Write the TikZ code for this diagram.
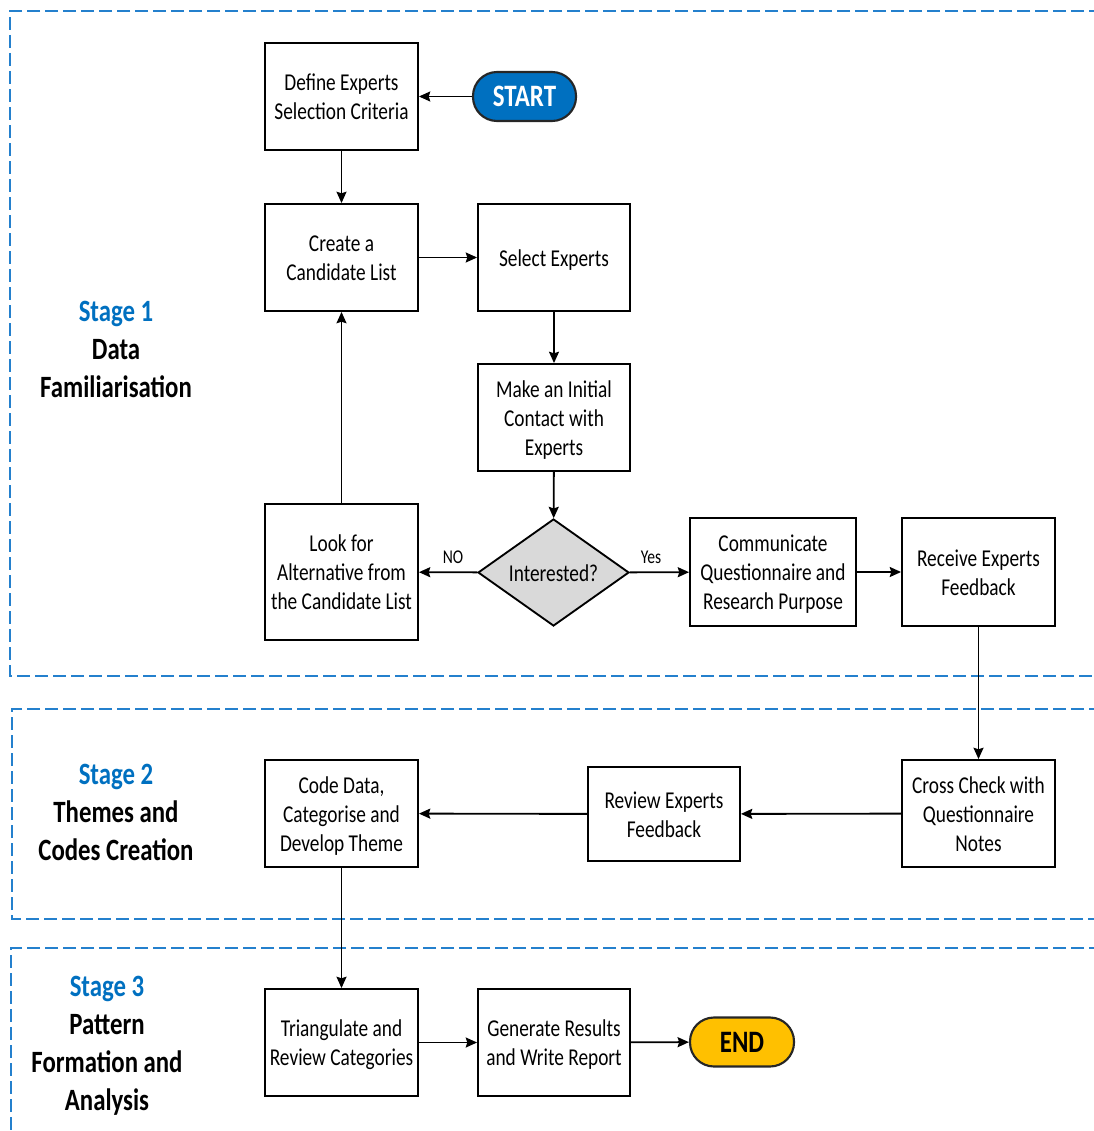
\documentclass[tikz,border=0pt]{standalone}
\usepackage{fontspec}
\setmainfont{Carlito}
\usepackage{graphicx}
\usetikzlibrary{shapes.geometric,arrows.meta}

\definecolor{stageblue}{RGB}{0,112,192}
\definecolor{frameblue}{RGB}{36,128,205}
\definecolor{endgold}{RGB}{255,192,0}
\definecolor{decgray}{RGB}{217,217,217}

% text set slightly taller than wide, lines centred, nudged down a little
\newcommand\tall[1]{\raisebox{-2.2pt}[\height][\depth]{\scalebox{1}[1.25]{\begin{tabular}{@{}c@{}}#1\end{tabular}}}}

\tikzset{
  procbox/.style={draw, line width=1.4pt, fill=white, minimum width=114.75pt,
    minimum height=80.25pt, inner sep=0pt, align=center,
    font=\fontsize{14.5}{17.4}\selectfont},
  decision/.style={diamond, aspect=1.4, draw, line width=1.4pt, fill=decgray,
    minimum width=113.25pt, minimum height=80.25pt, inner sep=0pt,
    font=\fontsize{14.5}{17.4}\selectfont},
  terminal/.style={draw=black!85, line width=1.6pt, rounded corners=18pt,
    minimum width=77.25pt, minimum height=36.75pt, inner sep=0pt,
    font=\bfseries\fontsize{18.7}{22.4}\selectfont},
  stagetext/.style={inner sep=0pt, align=center,
    font=\bfseries\fontsize{18.6}{22.8}\selectfont},
  lbl/.style={inner sep=0pt, font=\fontsize{11.7}{14}\selectfont},
  flow/.style={line width=1.4pt, -{Stealth[length=8.5pt,width=7.5pt,inset=1.2pt]}},
  stageframe/.style={draw=frameblue, line width=1.3pt, dash pattern=on 9.75pt off 3.75pt},
}

\begin{document}
\begin{tikzpicture}[x=0.75pt, y=-0.75pt]
\useasboundingbox (0,0) rectangle (1094,1131);

% stage frames, open to the right
\begin{scope}
  \clip (0,0) rectangle (1094,1131);
  \draw[stageframe] (1120,11) -- (10,11) -- (10,676) -- (1120,676);
  \draw[stageframe] (1120,709) -- (12,709) -- (12,919) -- (1120,919);
  \draw[stageframe] (1120,948) -- (11,948) -- (11,1150);
\end{scope}

% stage titles
\node[stagetext] (stage1) at (116,349)
  {\tall{\textcolor{stageblue}{Stage 1}\\Data\\Familiarisation}};
\node[stagetext] (stage2) at (116,811.5)
  {\tall{\textcolor{stageblue}{Stage 2}\\Themes and\\Codes Creation}};
\node[stagetext] (stage3) at (107,1042.75)
  {\tall{\textcolor{stageblue}{Stage 3}\\Pattern\\Formation and\\Analysis}};

% stage 1
\node[terminal, fill=stageblue, text=white] (start) at (524.5,96.5) {\tall{START}};
\node[procbox] (define) at (341.5,96.5) {\tall{Define Experts\\Selection Criteria}};
\node[procbox] (create) at (341.5,257.5) {\tall{Create a\\Candidate List}};
\node[procbox, minimum width=114pt] (select) at (554,257.5) {\tall{Select Experts}};
\node[procbox, minimum width=114pt] (contact) at (554,417.5) {\tall{Make an Initial\\Contact with\\Experts}};
\node[decision] (interested) at (553.5,572.5) {\tall{Interested?}};
\node[procbox, minimum height=102pt] (alt) at (341.5,572) {\tall{Look for\\Alternative from\\the Candidate List}};
\node[procbox, minimum width=124.5pt, minimum height=81pt] (comm) at (773,572) {\tall{Communicate\\Questionnaire and\\Research Purpose}};
\node[procbox, minimum height=81pt] (receive) at (978.5,572) {\tall{Receive Experts\\Feedback}};

% stage 2
\node[procbox] (cross) at (978.5,813.5) {\tall{Cross Check with\\Questionnaire\\Notes}};
\node[procbox, minimum width=114pt, minimum height=70.5pt] (review) at (664,814) {\tall{Review Experts\\Feedback}};
\node[procbox] (code) at (341.5,813.5) {\tall{Code Data,\\Categorise and\\Develop Theme}};

% stage 3
\node[procbox] (tri) at (341.5,1042.5) {\tall{Triangulate and\\Review Categories}};
\node[procbox, minimum width=114pt] (gen) at (554,1042.5) {\tall{Generate Results\\and Write Report}};
\node[terminal, fill=endgold, minimum width=78pt] (end) at (742,1042) {\tall{END}};

% branch labels
\node[lbl] (no) at (453,556) {\tall{NO}};
\node[lbl] (yes) at (651,556) {\tall{Yes}};

% connectors
\draw[flow] (start) -- (define);
\draw[flow] (define) -- (create);
\draw[flow] (create) -- (select);
\draw[flow] (select) -- (contact);
\draw[flow] (contact) -- (interested);
\draw[flow] (interested) -- (alt);
\draw[flow] (interested) -- (comm);
\draw[flow] (alt) -- (create);
\draw[flow] (comm) -- (receive);
\draw[flow] (receive) -- (cross);
\draw[flow] (cross) -- (review);
\draw[flow] (review) -- (code);
\draw[flow] (code) -- (tri);
\draw[flow] (tri) -- (gen);
\draw[flow] (gen) -- (end);
\end{tikzpicture}
\end{document}
